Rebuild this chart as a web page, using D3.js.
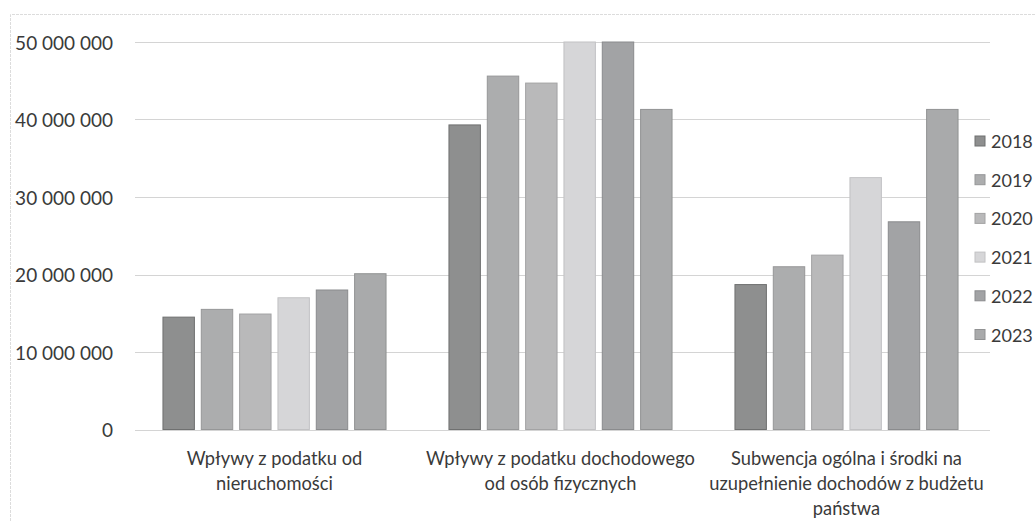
<!DOCTYPE html>
<html>
<head>
<meta charset="utf-8">
<script src="https://cdn.jsdelivr.net/npm/d3@7"></script>
<style>
  html, body { margin: 0; padding: 0; background: #fff; }
  svg { display: block; }
  text { font-family: Lato, "Open Sans", sans-serif; fill: #3a3a3a; }
</style>
</head>
<body>
<svg id="chart" width="1035" height="521"></svg>
<script>
// ---- data ----
const categories = [
  "Wpływy z podatku od nieruchomości",
  "Wpływy z podatku dochodowego od osób fizycznych",
  "Subwencja ogólna i środki na uzupełnienie dochodów z budżetu państwa"
];
const categoryLines = [
  ["Wpływy z podatku od", "nieruchomości"],
  ["Wpływy z podatku dochodowego", "od osób fizycznych"],
  ["Subwencja ogólna i środki na", "uzupełnienie dochodów z budżetu", "państwa"]
];
const years = ["2018", "2019", "2020", "2021", "2022", "2023"];
const values2018 = [14500000, 39300000, 18700000];
const values2019 = [15500000, 45600000, 21000000];
const values2020 = [14900000, 44700000, 22500000];
const values2021 = [17000000, 52000000, 32500000];
const values2022 = [18000000, 51000000, 26800000];
const values2023 = [20100000, 41300000, 41300000];
const yTicks = [0, 10000000, 20000000, 30000000, 40000000, 50000000];

const seriesValues = [values2018, values2019, values2020, values2021, values2022, values2023];
const colors = ["#8e8f8f", "#acadae", "#b9b9ba", "#d6d6d8", "#a2a3a5", "#a9aaab"];
const strokes = ["#6f7070", "#969798", "#a3a3a4", "#c2c2c4", "#8a8b8d", "#919293"];

// ---- layout ----
const svg = d3.select("#chart");
const y = d3.scaleLinear().domain([0, 50000000]).range([429.5, 42]).clamp(true);
const x0 = d3.scaleBand().domain(categories).range([131.5, 989.5]).paddingInner(0.22).paddingOuter(0.11);
const x1 = d3.scaleBand().domain(years).range([0, x0.bandwidth()]).paddingInner(0.18);
const fmt = v => d3.format(",")(v).replace(/,/g, " ");

// chart border (top + left)
svg.append("path")
  .attr("d", "M10.5,521 V14.5 H1035")
  .attr("fill", "none").attr("stroke", "#dcdcdc").attr("stroke-width", 1)
  .attr("stroke-dasharray", "3,1");

// gridlines
svg.append("g").selectAll("line").data(yTicks).join("line")
  .attr("x1", 135).attr("x2", 990)
  .attr("y1", d => Math.round(y(d)) + 0.5).attr("y2", d => Math.round(y(d)) + 0.5)
  .attr("stroke", "#d4d4d4").attr("stroke-width", 1);

// y tick labels
svg.append("g").selectAll("text").data(yTicks).join("text")
  .attr("x", 113).attr("y", d => y(d))
  .attr("text-anchor", "end").attr("dominant-baseline", "central")
  .style("font-size", "19px")
  .text(d => fmt(d));

// bars
const groups = svg.append("g").selectAll("g").data(categories).join("g")
  .attr("transform", d => `translate(${x0(d)},0)`);
groups.selectAll("rect")
  .data((c, ci) => years.map((yr, si) => ({ yr, si, v: seriesValues[si][ci] })))
  .join("rect")
  .attr("x", d => x1(d.yr))
  .attr("width", x1.bandwidth())
  .attr("y", d => y(d.v))
  .attr("height", d => y(0) - y(d.v))
  .attr("fill", d => colors[d.si])
  .attr("stroke", d => strokes[d.si]).attr("stroke-width", 1);

// category labels
categories.forEach((c, i) => {
  const cx = x0(c) + x0.bandwidth() / 2;
  const t = svg.append("text")
    .attr("text-anchor", "middle")
    .style("font-size", "18.3px");
  categoryLines[i].forEach((line, li) => {
    t.append("tspan").attr("x", cx).attr("y", 458 + li * 25)
      .attr("dominant-baseline", "central").text(line);
  });
});

// legend
const leg = svg.append("g").selectAll("g").data(years).join("g")
  .attr("transform", (d, i) => `translate(975,${141 + i * 38.7})`);
leg.append("rect").attr("x", 0).attr("y", -5).attr("width", 10).attr("height", 10)
  .attr("fill", (d, i) => colors[i]).attr("stroke", (d, i) => strokes[i]);
leg.append("text").attr("x", 16).attr("y", 0).attr("dominant-baseline", "central")
  .style("font-size", "18px").text(d => d);
</script>
</body>
</html>
